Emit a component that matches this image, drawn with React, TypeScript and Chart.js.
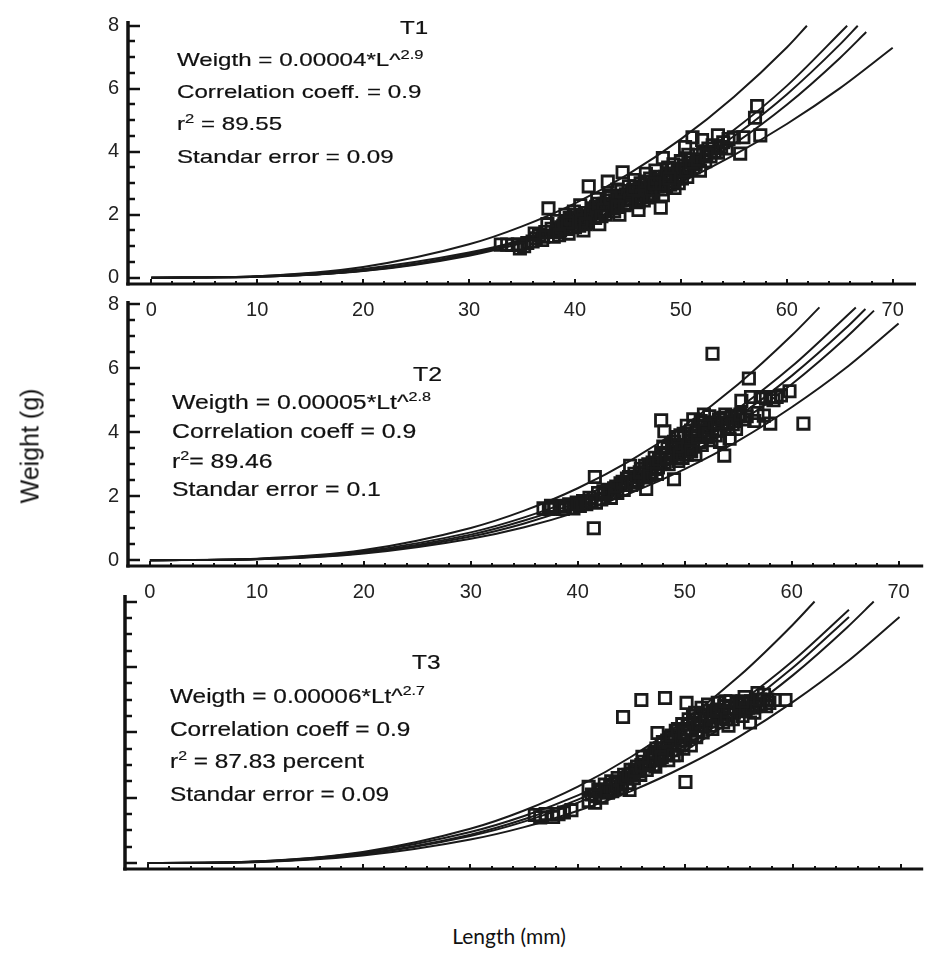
import React, { useEffect, useRef } from 'react';
import { Chart, registerables } from 'chart.js';

Chart.register(...registerables);

// ---------- data ----------
const xTickValues = [0, 10, 20, 30, 40, 50, 60, 70];
const yTickValues = [0, 2, 4, 6, 8];

// T1 fitted curves [length, weight]
const t1Curve1 = [[0, 0], [10, 0.05], [20, 0.34], [30, 1.06], [35, 1.63], [40, 2.36], [45, 3.28], [50, 4.4], [55, 5.74], [60, 7.31], [61.9, 8.0]];
const t1Curve2 = [[0, 0], [10, 0.03], [20, 0.23], [30, 0.76], [35, 1.21], [40, 1.81], [45, 2.57], [50, 3.53], [55, 4.69], [60, 6.09], [65.7, 8.0]];
const t1Curve3 = [[0, 0], [10, 0.03], [20, 0.22], [30, 0.73], [35, 1.16], [40, 1.73], [45, 2.46], [50, 3.37], [55, 4.49], [60, 5.82], [65, 7.4], [66.7, 8.0]];
const t1Curve4 = [[0, 0], [10, 0.03], [20, 0.21], [30, 0.7], [35, 1.1], [40, 1.64], [45, 2.33], [50, 3.19], [55, 4.24], [60, 5.49], [65, 6.97], [67.5, 7.8]];
const t1Curve5 = [[0, 0], [10, 0.05], [20, 0.28], [30, 0.8], [35, 1.19], [40, 1.69], [45, 2.3], [50, 3.03], [55, 3.89], [60, 4.88], [65, 6.01], [70, 7.3]];

// T2 fitted curves
const t2Curve1 = [[0, 0], [10, 0.05], [20, 0.32], [30, 1.01], [35, 1.55], [40, 2.25], [45, 3.13], [50, 4.21], [55, 5.5], [60, 7.02], [62.6, 7.9]];
const t2Curve2 = [[0, 0], [10, 0.04], [20, 0.28], [30, 0.87], [35, 1.34], [40, 1.94], [45, 2.7], [50, 3.63], [55, 4.74], [60, 6.05], [66, 7.9]];
const t2Curve3 = [[0, 0], [10, 0.035], [20, 0.25], [30, 0.8], [35, 1.24], [40, 1.81], [45, 2.53], [50, 3.42], [55, 4.49], [60, 5.76], [65, 7.23], [66.9, 7.85]];
const t2Curve4 = [[0, 0], [10, 0.03], [20, 0.23], [30, 0.74], [35, 1.15], [40, 1.7], [45, 2.39], [50, 3.24], [55, 4.27], [60, 5.5], [65, 6.93], [67.7, 7.8]];
const t2Curve5 = [[0, 0], [10, 0.03], [20, 0.21], [30, 0.67], [35, 1.03], [40, 1.51], [45, 2.11], [50, 2.85], [55, 3.73], [60, 4.78], [65, 5.99], [70, 7.4]];

// T3 fitted curves
const t3Curve1 = [[0, 0], [10, 0.05], [20, 0.34], [30, 1.05], [35, 1.61], [40, 2.34], [45, 3.26], [50, 4.38], [55, 5.72], [60, 7.3], [62, 8.0]];
const t3Curve2 = [[0, 0], [10, 0.05], [20, 0.32], [30, 0.95], [35, 1.44], [40, 2.07], [45, 2.85], [50, 3.79], [55, 4.9], [60, 6.19], [65.2, 7.75]];
const t3Curve3 = [[0, 0], [10, 0.04], [20, 0.28], [30, 0.87], [35, 1.34], [40, 1.94], [45, 2.69], [50, 3.6], [55, 4.69], [60, 5.98], [65.2, 7.53]];
const t3Curve4 = [[0, 0], [10, 0.04], [20, 0.27], [30, 0.83], [35, 1.27], [40, 1.85], [45, 2.57], [50, 3.45], [55, 4.51], [60, 5.75], [65, 7.2], [67.5, 8.0]];
const t3Curve5 = [[0, 0], [10, 0.03], [20, 0.23], [30, 0.72], [35, 1.1], [40, 1.6], [45, 2.21], [50, 2.97], [55, 3.87], [60, 4.93], [65, 6.15], [69.9, 7.53]];

// observed fish [length (mm), weight (g)]
const t1Fish = [
  [33.0, 1.05], [33.6, 1.05], [34.1, 1.04], [34.6, 1.06], [35.2, 1.0], [35.5, 1.1], [34.8, 0.93], [36.0, 1.15], [36.3, 1.25], [36.6, 1.35],
  [36.9, 1.2], [37.2, 1.45], [37.5, 2.2], [37.4, 1.7], [37.8, 1.55], [38.0, 1.3], [38.3, 1.8], [38.6, 1.5], [38.9, 1.65], [39.1, 2.0],
  [39.4, 1.4], [39.6, 1.75], [39.9, 2.1], [40.0, 1.6], [40.3, 1.9], [40.5, 2.3], [40.8, 1.5], [41.0, 2.05], [41.3, 2.9], [41.2, 1.75],
  [41.6, 2.2], [41.9, 1.9], [42.1, 2.5], [42.3, 1.7], [42.6, 2.3], [42.9, 2.0], [43.1, 3.05], [43.2, 2.6], [43.5, 2.2], [43.8, 2.45],
  [44.0, 2.8], [44.2, 2.0], [44.5, 3.35], [44.6, 2.6], [44.9, 2.35], [45.1, 2.9], [45.3, 2.5], [45.6, 3.1], [45.8, 2.7], [46.0, 2.15],
  [46.2, 3.0], [46.5, 2.45], [46.7, 3.3], [46.9, 2.8], [47.1, 3.15], [47.4, 2.6], [47.6, 3.4], [47.8, 2.9], [48.1, 2.22], [48.3, 2.62],
  [48.3, 3.8], [48.5, 3.2], [48.8, 3.5], [49.0, 2.95], [49.3, 3.6], [49.5, 3.25], [49.8, 3.0], [50.0, 3.7], [50.2, 3.35], [50.4, 4.15],
  [50.6, 3.2], [50.9, 3.75], [51.1, 4.46], [51.2, 3.5], [51.5, 3.9], [51.8, 3.4], [52.0, 4.37], [52.3, 3.7], [52.8, 3.85], [53.0, 4.2],
  [53.5, 4.52], [53.5, 3.97], [54.0, 4.3], [54.5, 4.4], [55.0, 4.46], [55.6, 3.94], [55.9, 4.46], [57.0, 5.08], [57.2, 5.45], [57.5, 4.52],
  [38.2, 1.45], [38.7, 1.6], [39.2, 1.55], [39.7, 1.85], [40.2, 1.75], [40.7, 1.95], [41.4, 1.95], [41.8, 2.15], [42.4, 2.05], [42.8, 2.35],
  [43.3, 2.3], [43.7, 2.1], [44.3, 2.45], [44.8, 2.65], [45.4, 2.7], [45.9, 2.5], [46.4, 2.75], [46.8, 2.55], [47.3, 2.95], [47.9, 3.1],
  [48.6, 2.9], [49.2, 3.05], [49.7, 3.45], [50.3, 3.55], [50.8, 3.45], [51.4, 3.6], [52.1, 3.95], [52.6, 4.1], [53.2, 4.0], [40.4, 1.65],
  [41.1, 1.85], [42.0, 2.25], [43.0, 2.45], [44.1, 2.55], [45.0, 2.6], [46.1, 2.85], [47.0, 2.65], [48.0, 3.0], [49.0, 3.3], [50.1, 3.15],
  [39.0, 1.7], [39.5, 1.9], [40.1, 2.0], [40.6, 1.8], [41.5, 2.05], [42.2, 2.35], [42.7, 2.15], [43.4, 2.55], [43.9, 2.3], [44.4, 2.75],
  [44.7, 2.3], [45.2, 2.45], [45.7, 2.9], [46.3, 2.6], [46.6, 3.05], [47.2, 2.8], [47.7, 3.2], [48.2, 2.8], [48.7, 3.3], [49.1, 3.45],
  [49.6, 3.15], [50.5, 3.4], [51.0, 3.65], [51.6, 3.75], [52.4, 3.9], [53.8, 4.15], [54.3, 4.1], [47.5, 3.0], [46.0, 2.4], [44.0, 2.25],
  [42.5, 1.95], [41.0, 1.7], [39.3, 1.75], [38.5, 1.35], [37.0, 1.3], [36.2, 1.4], [50.7, 3.9], [49.4, 2.85], [48.9, 3.15], [45.5, 2.8],
];

const t2Fish = [
  [36.8, 1.62], [37.3, 1.6], [37.8, 1.65], [38.3, 1.7], [38.8, 1.68], [39.2, 1.75], [39.6, 1.62], [39.9, 1.8], [40.2, 1.7], [40.5, 1.85],
  [40.8, 1.75], [41.1, 1.95], [41.5, 1.0], [41.6, 2.6], [41.7, 1.8], [41.9, 2.1], [42.2, 1.9], [42.5, 2.05], [42.8, 2.2], [43.1, 1.95],
  [43.4, 2.25], [43.7, 2.1], [44.0, 2.4], [44.3, 2.2], [44.6, 2.55], [44.9, 2.95], [45.0, 2.35], [45.3, 2.7], [45.6, 2.5], [45.9, 2.85],
  [46.2, 2.6], [46.4, 2.23], [46.6, 3.0], [46.9, 2.75], [47.2, 3.2], [47.5, 2.9], [47.8, 4.37], [47.8, 3.35], [48.1, 4.03], [48.1, 3.05],
  [48.4, 3.5], [48.7, 3.2], [49.0, 2.53], [49.0, 3.7], [49.3, 3.35], [49.6, 3.9], [49.9, 3.5], [50.2, 4.2], [50.2, 3.3], [50.5, 3.75],
  [50.8, 4.4], [50.8, 3.55], [51.1, 4.0], [51.4, 3.7], [51.7, 4.3], [52.0, 3.85], [52.3, 4.5], [52.6, 6.45], [52.6, 4.1], [52.9, 3.9],
  [53.2, 4.4], [53.5, 4.25], [53.7, 3.27], [53.8, 4.55], [54.1, 4.1], [54.4, 4.5], [54.7, 4.35], [55.0, 4.5], [55.3, 4.98], [55.6, 4.4],
  [56.0, 5.68], [56.2, 5.1], [56.5, 4.35], [57.1, 5.1], [57.4, 4.52], [58.0, 5.1], [58.0, 4.27], [58.6, 5.1], [59.0, 5.15], [59.8, 5.28],
  [61.1, 4.27], [43.0, 2.1], [44.5, 2.35], [45.5, 2.6], [46.0, 2.7], [46.8, 2.9], [47.3, 2.85], [47.7, 3.05], [48.2, 3.3], [48.5, 3.0],
  [48.9, 3.4], [49.4, 3.1], [49.7, 3.6], [50.0, 3.85], [50.4, 3.45], [50.9, 3.9], [51.3, 4.2], [51.6, 3.6], [52.1, 4.15], [52.5, 3.75],
  [53.0, 4.25], [51.0, 3.3], [49.8, 3.2], [53.3, 3.7], [54.8, 4.1], [54.2, 3.8], [44.2, 2.45], [44.8, 2.6], [45.2, 2.45], [45.8, 2.75],
  [46.3, 2.95], [46.7, 2.65], [47.0, 3.05], [47.6, 3.15], [48.0, 3.55], [48.3, 3.2], [48.8, 3.6], [49.2, 3.55], [49.5, 3.3], [49.9, 3.95],
  [50.3, 3.6], [50.6, 4.05], [51.2, 3.85], [51.5, 4.35], [51.9, 4.05], [52.2, 3.95], [52.8, 4.3], [53.1, 4.05], [53.6, 4.45], [54.0, 4.3],
  [54.5, 4.25], [55.2, 4.55], [55.8, 4.5], [56.8, 4.6], [57.6, 5.05], [58.3, 5.0], [43.6, 2.3], [42.4, 2.15], [41.3, 1.85], [40.0, 1.75],
  [38.6, 1.6], [37.5, 1.7], [47.4, 2.7], [49.3, 3.85], [50.6, 3.4], [51.8, 4.55],
];

const t3Fish = [
  [36.0, 1.47], [36.5, 1.4], [37.0, 1.5], [37.7, 1.41], [38.2, 1.5], [38.7, 1.55], [39.4, 1.62], [41.0, 1.9], [41.0, 2.33], [41.3, 2.1],
  [41.6, 1.85], [41.9, 2.25], [42.2, 2.0], [42.5, 2.4], [42.8, 2.15], [43.1, 2.5], [43.4, 2.25], [43.7, 2.6], [44.0, 2.3], [44.2, 4.47],
  [44.3, 2.7], [44.6, 2.45], [44.8, 2.24], [44.9, 2.85], [45.2, 2.6], [45.5, 2.95], [45.9, 4.99], [45.8, 2.7], [46.1, 3.1], [46.4, 2.85],
  [46.7, 3.3], [47.0, 3.0], [47.3, 3.5], [47.4, 3.98], [47.6, 3.15], [47.9, 3.7], [48.1, 5.05], [48.2, 3.3], [48.5, 3.85], [48.8, 3.45],
  [49.1, 4.05], [49.4, 3.6], [49.7, 4.25], [50.0, 2.48], [50.0, 3.75], [50.1, 4.9], [50.3, 4.4], [50.6, 3.9], [50.9, 4.6], [51.2, 4.05],
  [51.5, 4.75], [51.8, 4.2], [52.1, 4.85], [52.4, 4.35], [52.7, 4.65], [53.0, 4.9], [53.3, 4.45], [53.6, 4.8], [53.9, 4.55], [54.2, 4.95],
  [54.5, 4.6], [54.8, 4.9], [55.1, 4.65], [55.5, 5.08], [55.8, 4.75], [56.1, 4.95], [56.4, 4.6], [56.7, 5.2], [57.0, 4.85], [57.3, 5.15],
  [57.6, 5.0], [58.3, 4.99], [59.3, 4.99], [56.0, 4.3], [54.0, 4.2], [42.0, 2.2], [43.0, 2.35], [43.5, 2.45], [44.5, 2.6], [45.0, 2.75],
  [45.6, 2.8], [46.3, 3.0], [46.9, 3.2], [47.5, 3.35], [48.0, 3.5], [48.6, 3.6], [49.0, 3.8], [49.5, 3.9], [49.8, 3.5], [50.4, 4.1],
  [50.8, 4.3], [51.3, 4.4], [51.6, 4.0], [52.0, 4.5], [52.5, 4.1], [53.1, 4.6], [53.5, 4.3], [54.4, 4.4], [55.3, 4.5], [56.5, 4.8],
  [57.5, 4.8], [47.2, 2.95], [48.4, 3.15], [49.2, 3.3], [44.1, 2.4], [44.7, 2.7], [45.3, 2.85], [45.9, 3.0], [46.6, 3.05], [47.1, 3.4],
  [47.7, 3.5], [48.3, 3.75], [48.7, 3.9], [49.3, 4.1], [49.6, 3.75], [50.2, 4.25], [50.5, 3.6], [50.7, 4.5], [51.1, 4.2], [51.4, 4.55],
  [51.9, 4.4], [52.2, 4.65], [52.6, 4.5], [52.9, 4.7], [53.4, 4.65], [53.8, 4.4], [54.1, 4.75], [54.6, 4.75], [55.0, 4.85], [55.6, 4.7],
  [56.2, 4.75], [56.9, 5.0], [57.8, 4.9], [43.2, 2.2], [42.6, 2.25], [41.6, 2.05], [47.8, 3.25], [48.9, 3.3], [49.9, 4.0], [51.0, 3.85],
  [52.3, 4.2], [53.7, 4.95], [55.3, 4.95], [46.0, 3.25],
];

// annotation texts
const t1Title = 'T1';
const t1Notes = [
  [{ text: 'Weigth = 0.00004*L^' }, { text: '2.9', sup: true }],
  [{ text: 'Correlation coeff. = 0.9' }],
  [{ text: 'r' }, { text: '2', sup: true }, { text: ' = 89.55' }],
  [{ text: 'Standar error = 0.09' }],
];
const t2Title = 'T2';
const t2Notes = [
  [{ text: 'Weigth = 0.00005*Lt^' }, { text: '2.8', sup: true }],
  [{ text: 'Correlation coeff = 0.9' }],
  [{ text: 'r' }, { text: '2', sup: true }, { text: '= 89.46' }],
  [{ text: 'Standar error = 0.1' }],
];
const t3Title = 'T3';
const t3Notes = [
  [{ text: 'Weigth = 0.00006*Lt^' }, { text: '2.7', sup: true }],
  [{ text: 'Correlation coeff = 0.9' }],
  [{ text: 'r' }, { text: '2', sup: true }, { text: ' = 87.83 percent' }],
  [{ text: 'Standar error = 0.09' }],
];

const yAxisTitle = 'Weight (g)';
const xAxisTitle = 'Length (mm)';

// ---------- drawing ----------
const INK = '#1a1a1a';
const SANS = '"Liberation Sans", Arial, Helvetica, sans-serif';

type Seg = { text: string; sup?: boolean };

type PanelProps = {
  top: number;
  height: number;
  padding: { top: number; right: number; bottom: number; left: number };
  yWidth: number;
  xHeight: number;
  showLabels: boolean;
  xMin: number;
  xMax: number;
  yMin: number;
  yMax: number;
  fish: number[][];
  curves: number[][][];
  title: string;
  notes: Seg[][];
  titlePos: { x: number; y: number };
  notesX: number;
  notesY: number[];
  noteSize: number;
  noteStretch: number;
};

function Panel(p: PanelProps) {
  const ref = useRef<HTMLCanvasElement | null>(null);

  useEffect(() => {
    if (!ref.current) return;

    const inkPlugin = {
      id: 'inkAxes',
      afterDraw(chart: any) {
        const { ctx, chartArea: a, scales } = chart;
        const xs = scales.x;
        const ys = scales.y;
        ctx.save();
        ctx.strokeStyle = '#111';
        ctx.lineCap = 'butt';
        // axis lines
        ctx.lineWidth = 3.5;
        ctx.beginPath();
        ctx.moveTo(a.left, a.top);
        ctx.lineTo(a.left, a.bottom + 1.5);
        ctx.stroke();
        ctx.lineWidth = 3;
        ctx.beginPath();
        ctx.moveTo(a.left - 1.75, a.bottom);
        ctx.lineTo(a.right, a.bottom);
        ctx.stroke();
        // y ticks (inside)
        ctx.lineWidth = 2.5;
        for (let v = 0; v <= 8.001; v += 0.5) {
          const py = Math.round(ys.getPixelForValue(v));
          const len = Math.abs(v % 2) < 0.01 ? 12 : 7;
          ctx.beginPath();
          ctx.moveTo(a.left, py);
          ctx.lineTo(a.left + len, py);
          ctx.stroke();
        }
        // x ticks (inside)
        ctx.lineWidth = 2;
        for (let v = 0; v <= 70.001; v += 2) {
          const px = Math.round(xs.getPixelForValue(v));
          const len = v % 10 === 0 ? 5 : 3;
          ctx.beginPath();
          ctx.moveTo(px, a.bottom);
          ctx.lineTo(px, a.bottom - len);
          ctx.stroke();
        }
        // annotation text
        const fs = p.noteSize;
        const sx = p.noteStretch;
        ctx.fillStyle = '#111';
        ctx.strokeStyle = '#111';
        ctx.lineWidth = 0.2;
        ctx.textBaseline = 'alphabetic';
        ctx.textAlign = 'left';
        const drawLine = (segs: Seg[], x: number, y: number) => {
          ctx.save();
          ctx.translate(x, y);
          ctx.scale(sx, 1);
          let cx = 0;
          for (const s of segs) {
            ctx.font = s.sup ? `${Math.round(fs * 0.66)}px ${SANS}` : `${fs}px ${SANS}`;
            const dy = s.sup ? -Math.round(fs * 0.38) : 0;
            ctx.fillText(s.text, cx, dy);
            ctx.strokeText(s.text, cx, dy);
            cx += ctx.measureText(s.text).width;
          }
          ctx.restore();
        };
        drawLine([{ text: p.title }], p.titlePos.x, p.titlePos.y);
        p.notes.forEach((segs, i) => drawLine(segs, p.notesX, p.notesY[i]));
        ctx.restore();
      },
    };

    const curveSets = p.curves.map((c) => ({
      data: c.map(([x, y]) => ({ x, y })),
      showLine: true,
      borderColor: INK,
      borderWidth: 2,
      pointRadius: 0,
      fill: false,
      cubicInterpolationMode: 'monotone' as const,
    }));

    const fishSet = {
      data: p.fish.map(([x, y]) => ({ x, y })),
      showLine: false,
      pointStyle: 'rect' as const,
      pointRadius: 8,
      borderColor: INK,
      borderWidth: 2.8,
      backgroundColor: 'rgba(255,255,255,0)',
    };

    const chart = new Chart(ref.current, {
      type: 'scatter',
      data: { datasets: [fishSet, ...curveSets] as any },
      options: {
        responsive: false,
        animation: false,
        events: [],
        layout: { padding: p.padding },
        plugins: { legend: { display: false }, tooltip: { enabled: false } },
        scales: {
          x: {
            type: 'linear',
            min: p.xMin,
            max: p.xMax,
            afterBuildTicks: (s: any) => {
              s.ticks = xTickValues.map((v) => ({ value: v }));
            },
            afterFit: (s: any) => {
              s.height = p.xHeight;
            },
            grid: { display: false, drawTicks: false },
            border: { display: false },
            ticks: {
              display: p.showLabels,
              font: { family: SANS, size: 20 },
              color: '#222',
              padding: 14,
              maxRotation: 0,
              autoSkip: false,
            },
          },
          y: {
            type: 'linear',
            min: p.yMin,
            max: p.yMax,
            afterBuildTicks: (s: any) => {
              s.ticks = yTickValues.map((v) => ({ value: v }));
            },
            afterFit: (s: any) => {
              s.width = p.yWidth;
            },
            grid: { display: false, drawTicks: false },
            border: { display: false },
            ticks: {
              display: p.showLabels,
              font: { family: SANS, size: 20 },
              color: '#222',
              padding: 9,
              autoSkip: false,
            },
          },
        },
      },
      plugins: [inkPlugin],
    });
    return () => chart.destroy();
  }, []);

  return (
    <canvas
      ref={ref}
      width={934}
      height={p.height}
      style={{ position: 'absolute', left: 0, top: p.top, width: 934, height: p.height }}
    />
  );
}

export default function App() {
  return (
    <div style={{ position: 'absolute', left: 0, top: 0, width: 934, height: 968, background: '#fff', overflow: 'hidden' }}>
      <Panel
        top={0}
        height={340}
        padding={{ top: 12, right: 18, bottom: 16, left: 0 }}
        yWidth={128}
        xHeight={40}
        showLabels={true}
        xMin={-2.2}
        xMax={72.2}
        yMin={-0.2}
        yMax={8.15}
        fish={t1Fish}
        curves={[t1Curve1, t1Curve2, t1Curve3, t1Curve4, t1Curve5]}
        title={t1Title}
        notes={t1Notes}
        titlePos={{ x: 400, y: 34 }}
        notesX={177}
        notesY={[66, 98, 130, 163]}
        noteSize={19}
        noteStretch={1.27}
      />
      <Panel
        top={280}
        height={340}
        padding={{ top: 15, right: 2, bottom: 14, left: 0 }}
        yWidth={128}
        xHeight={40}
        showLabels={true}
        xMin={-2.05}
        xMax={72.3}
        yMin={-0.18}
        yMax={8.1}
        fish={t2Fish}
        curves={[t2Curve1, t2Curve2, t2Curve3, t2Curve4, t2Curve5]}
        title={t2Title}
        notes={t2Notes}
        titlePos={{ x: 413, y: 101 }}
        notesX={172}
        notesY={[129, 158, 188, 216]}
        noteSize={20}
        noteStretch={1.24}
      />
      <Panel
        top={580}
        height={320}
        padding={{ top: 15, right: 1, bottom: 21, left: 0 }}
        yWidth={125}
        xHeight={10}
        showLabels={false}
        xMin={-2.1}
        xMax={72.1}
        yMin={-0.18}
        yMax={8.2}
        fish={t3Fish}
        curves={[t3Curve1, t3Curve2, t3Curve3, t3Curve4, t3Curve5]}
        title={t3Title}
        notes={t3Notes}
        titlePos={{ x: 412, y: 89 }}
        notesX={170}
        notesY={[123, 156, 188, 221]}
        noteSize={20}
        noteStretch={1.22}
      />
      <div
        style={{
          position: 'absolute',
          left: 30,
          top: 446,
          transform: 'translate(-50%, -50%) rotate(-90deg)',
          whiteSpace: 'nowrap',
          fontFamily: SANS,
          fontSize: 25,
          color: '#111',
          lineHeight: 1,
        }}
      >
        {yAxisTitle}
      </div>
      <div
        style={{
          position: 'absolute',
          left: 509,
          top: 935,
          transform: 'translate(-50%, -50%)',
          whiteSpace: 'nowrap',
          fontFamily: 'Lato, "Open Sans", sans-serif',
          fontSize: 21,
          color: '#111',
          lineHeight: 1,
        }}
      >
        {xAxisTitle}
      </div>
    </div>
  );
}
